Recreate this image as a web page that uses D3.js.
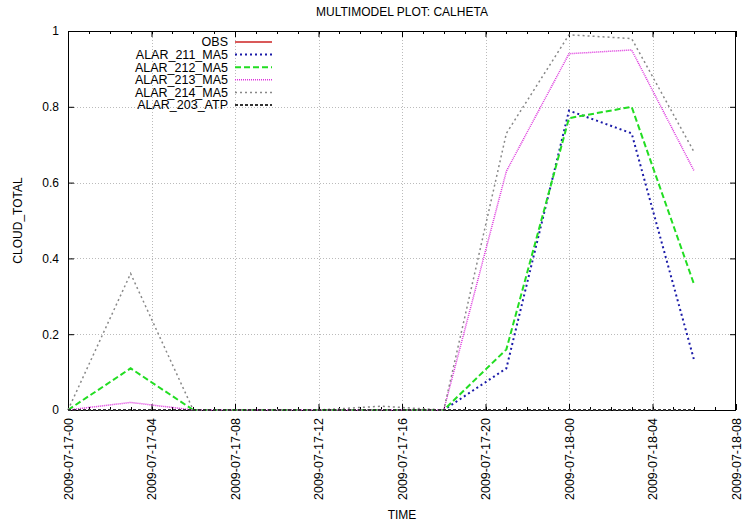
<!DOCTYPE html>
<html>
<head>
<meta charset="utf-8">
<script src="https://cdn.jsdelivr.net/npm/d3@7"></script>
<style>
  body { margin: 0; background: #fff; }
  text { font-family: "Liberation Sans", Arial, sans-serif; fill: #000; }
</style>
</head>
<body>
<div id="chart"></div>
<script>
// Multimodel plot, cloud total per model run

var times = ["2009-07-17-00", "2009-07-17-03", "2009-07-17-06", "2009-07-17-09",
    "2009-07-17-12", "2009-07-17-15", "2009-07-17-18", "2009-07-17-21",
    "2009-07-18-00", "2009-07-18-03", "2009-07-18-06"];

var obs = [];
var alar211 = [0, 0, 0, 0, 0, 0, 0, 0.11, 0.79, 0.73, 0.13];
var alar212 = [0, 0.11, 0, 0, 0, 0, 0, 0.16, 0.77, 0.80, 0.33];
var alar213 = [0, 0.02, 0, 0, 0, 0, 0, 0.63, 0.94, 0.95, 0.63];
var alar214 = [0, 0.36, 0, 0, 0, 0.01, 0, 0.73, 0.99, 0.98, 0.68];
var alar203 = [0, 0, 0, 0, 0, 0, 0, 0, 0, 0, 0];

var seriesNames = ["OBS", "ALAR_211_MA5", "ALAR_212_MA5", "ALAR_213_MA5", "ALAR_214_MA5", "ALAR_203_ATP"];
var seriesValues = [obs, alar211, alar212, alar213, alar214, alar203];

var xTickLabels = ["2009-07-17-00", "2009-07-17-04", "2009-07-17-08", "2009-07-17-12",
    "2009-07-17-16", "2009-07-17-20", "2009-07-18-00", "2009-07-18-04", "2009-07-18-08"];
var yTickValues = [0, 0.2, 0.4, 0.6, 0.8, 1];

var styles = [
    { color: "#cc2222", width: 1.5, dash: null },
    { color: "#1a1aa8", width: 2, dash: "2,3" },
    { color: "#22dd22", width: 2, dash: "6,3" },
    { color: "#dd33dd", width: 1.5, dash: "1,1" },
    { color: "#888888", width: 1.5, dash: "2,3" },
    { color: "#333333", width: 2, dash: "3,2" }
];

var width = 744, height = 525;
var margin = { top: 31, right: 8, bottom: 115, left: 68 };

var parse = d3.utcParse("%Y-%m-%d-%H");

var svg = d3.select("#chart").append("svg")
    .attr("width", width)
    .attr("height", height);

var x = d3.scaleUtc()
    .domain([parse(xTickLabels[0]), parse(xTickLabels[xTickLabels.length - 1])])
    .range([margin.left, width - margin.right]);

var y = d3.scaleLinear()
    .domain([0, 1])
    .range([height - margin.bottom, margin.top]);

var xMajor = xTickLabels.map(parse);
var xMinor = d3.utcHour.range(x.domain()[0], x.domain()[1]);

// grid
var grid = svg.append("g")
    .attr("stroke", "#bbb")
    .attr("stroke-width", 1)
    .attr("stroke-dasharray", "1,2");
grid.selectAll(".gx").data(xMajor.slice(1, -1)).enter().append("line")
    .attr("x1", d => Math.round(x(d)) + 0.5).attr("x2", d => Math.round(x(d)) + 0.5)
    .attr("y1", y(0)).attr("y2", y(1));
grid.selectAll(".gy").data(yTickValues.slice(1, -1)).enter().append("line")
    .attr("x1", x.range()[0]).attr("x2", x.range()[1])
    .attr("y1", d => Math.round(y(d)) + 0.5).attr("y2", d => Math.round(y(d)) + 0.5);

// axes
var fmt = d3.utcFormat("%Y-%m-%d-%H");
var xAxis = svg.append("g")
    .attr("transform", "translate(0," + y(0) + ")")
    .call(d3.axisBottom(x).tickValues(xMajor).tickFormat(fmt).tickSizeInner(-6).tickSizeOuter(0));
xAxis.select(".domain").remove();
xAxis.selectAll("text")
    .attr("font-size", 12.5)
    .attr("transform", "rotate(-90)")
    .attr("text-anchor", "end")
    .attr("x", -8)
    .attr("y", 0)
    .attr("dy", "0.35em");

var xAxisTop = svg.append("g")
    .attr("transform", "translate(0," + y(1) + ")")
    .call(d3.axisTop(x).tickValues(xMajor).tickFormat("").tickSizeInner(-6).tickSizeOuter(0));
xAxisTop.select(".domain").remove();

[y(0), y(1)].forEach(function(py, i) {
    svg.append("g").selectAll("line").data(xMinor).enter().append("line")
        .attr("x1", d => Math.round(x(d)) + 0.5).attr("x2", d => Math.round(x(d)) + 0.5)
        .attr("y1", py).attr("y2", i === 0 ? py - 3 : py + 3)
        .attr("stroke", "#000");
});

var yAxis = svg.append("g")
    .attr("transform", "translate(" + x.range()[0] + ",0)")
    .call(d3.axisLeft(y).tickValues(yTickValues).tickFormat(d3.format("~g")).tickSizeInner(-6).tickSizeOuter(0));
yAxis.select(".domain").remove();
yAxis.selectAll("text").attr("font-size", 12).attr("x", -9);

var yAxisRight = svg.append("g")
    .attr("transform", "translate(" + x.range()[1] + ",0)")
    .call(d3.axisRight(y).tickValues(yTickValues).tickFormat("").tickSizeInner(-6).tickSizeOuter(0));
yAxisRight.select(".domain").remove();

// frame
svg.append("rect")
    .attr("x", x.range()[0] + 0.5)
    .attr("y", y(1) + 0.5)
    .attr("width", x.range()[1] - x.range()[0] - 1)
    .attr("height", y(0) - y(1))
    .attr("fill", "none")
    .attr("stroke", "#000");

// lines
var line = d3.line()
    .x(d => x(d.t))
    .y(d => y(d.v));

seriesValues.forEach(function(vals, i) {
    if (vals.length === 0) return;
    var pts = vals.map((v, j) => ({ t: parse(times[j]), v: v }));
    svg.append("path")
        .datum(pts)
        .attr("d", line)
        .attr("fill", "none")
        .attr("stroke", styles[i].color)
        .attr("stroke-width", styles[i].width)
        .attr("stroke-dasharray", styles[i].dash);
});

// legend
var legend = svg.append("g");
seriesNames.forEach(function(name, i) {
    var ly = 42 + i * 12.6;
    legend.append("text")
        .attr("x", 228).attr("y", ly)
        .attr("dy", "0.35em")
        .attr("text-anchor", "end")
        .attr("font-size", 12.5)
        .text(name);
    legend.append("line")
        .attr("x1", 235).attr("x2", 272)
        .attr("y1", ly).attr("y2", ly)
        .attr("stroke", styles[i].color)
        .attr("stroke-width", styles[i].width)
        .attr("stroke-dasharray", styles[i].dash);
});

// titles
svg.append("text")
    .attr("x", (x.range()[0] + x.range()[1]) / 2)
    .attr("y", 16)
    .attr("text-anchor", "middle")
    .attr("font-size", 12)
    .text("MULTIMODEL PLOT: CALHETA");

svg.append("text")
    .attr("x", (x.range()[0] + x.range()[1]) / 2)
    .attr("y", 519)
    .attr("text-anchor", "middle")
    .attr("font-size", 12)
    .text("TIME");

svg.append("text")
    .attr("transform", "translate(22," + (y(0) + y(1)) / 2 + ") rotate(-90)")
    .attr("text-anchor", "middle")
    .attr("font-size", 12)
    .text("CLOUD_TOTAL");
</script>
</body>
</html>
